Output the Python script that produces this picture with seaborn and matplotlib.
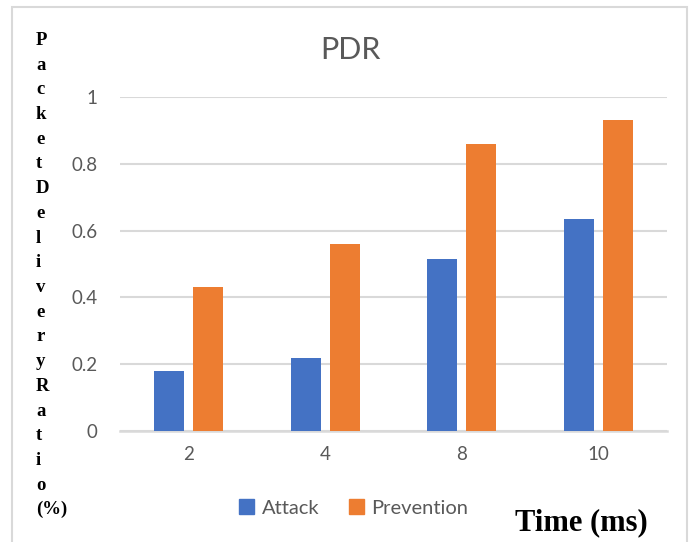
import matplotlib
matplotlib.use("Agg")
import matplotlib.pyplot as plt
import matplotlib.patches as mpatches
import pandas as pd
import seaborn as sns

# Data
times = ["2", "4", "8", "10"]
attack = [0.18, 0.22, 0.515, 0.635]
prevention = [0.43, 0.56, 0.86, 0.93]
series_names = ["Attack", "Prevention"]
y_ticks = [0, 0.2, 0.4, 0.6, 0.8, 1]
y_tick_labels = ["0", "0.2", "0.4", "0.6", "0.8", "1"]
y_label_lines = list("PacketDeliveryRatio") + ["(%)"]

df = pd.DataFrame({
    "Time": times * 2,
    "Series": [series_names[0]] * len(times) + [series_names[1]] * len(times),
    "PDR": attack + prevention,
})

sns.set_theme(style="white")
plt.rcParams["font.family"] = ["Lato", "DejaVu Sans"]

W, H = 691, 542
fig = plt.figure(figsize=(W / 100, H / 100), dpi=100)
ax = fig.add_axes([120 / W, (H - 431) / H, (667 - 120) / W, (431 - 97) / H])

palette = {"Attack": "#4472C4", "Prevention": "#ED7D31"}
sns.barplot(data=df, x="Time", y="PDR", hue="Series", order=times,
            hue_order=series_names, palette=palette, width=0.57, gap=0.23,
            linewidth=0, saturation=1, ax=ax, legend=False, zorder=3)

ax.set_ylim(0, 1)
ax.set_xlim(-0.5, len(times) - 0.5)
ax.set_yticks(y_ticks)
ax.set_yticklabels(y_tick_labels)
ax.grid(axis="y", color="#d9d9d9", linewidth=1.5, zorder=0)
ax.grid(axis="x", visible=False)
for side in ["top", "right", "left"]:
    ax.spines[side].set_visible(False)
ax.spines["bottom"].set_color("#d9d9d9")
ax.spines["bottom"].set_linewidth(1.8)
ax.tick_params(axis="both", length=0, colors="#595959", labelsize=13.5)
ax.tick_params(axis="y", pad=16)
ax.tick_params(axis="x", pad=11)
ax.set_xlabel("")
ax.set_ylabel("")

# Title
fig.text(350 / W, 1 - 50 / H, "PDR", ha="center", va="center",
         fontsize=22, color="#595959")

# Legend
handles = [mpatches.Patch(color=palette[s], label=s) for s in series_names]
fig.legend(handles=handles, loc="center", bbox_to_anchor=(354 / W, 1 - 508 / H),
           ncol=2, frameon=False, fontsize=14.5, handlelength=0.7,
           handleheight=0.7, handletextpad=0.4, columnspacing=1.5,
           labelcolor="#595959")

# Vertical stacked axis title
serif = ["Liberation Serif", "DejaVu Serif"]
step = 24.7
for i, line in enumerate(y_label_lines):
    fig.text(36 / W, 1 - (45 + i * step) / H, line, ha="left", va="baseline",
             fontsize=13.5, fontweight="bold", family=serif, color="black")

# Horizontal axis title
fig.text(515 / W, 1 - 530 / H, "Time (ms)", ha="left", va="baseline",
         fontsize=22, fontweight="bold", family=serif, color="black")

# Chart frame
frame = mpatches.Rectangle((12 / W, -0.05), (687 - 12) / W, 1 - 7 / H + 0.05,
                           transform=fig.transFigure, fill=False,
                           edgecolor="#d9d9d9", linewidth=1.5)
fig.patches.append(frame)

fig.savefig("out.png", dpi=100)
